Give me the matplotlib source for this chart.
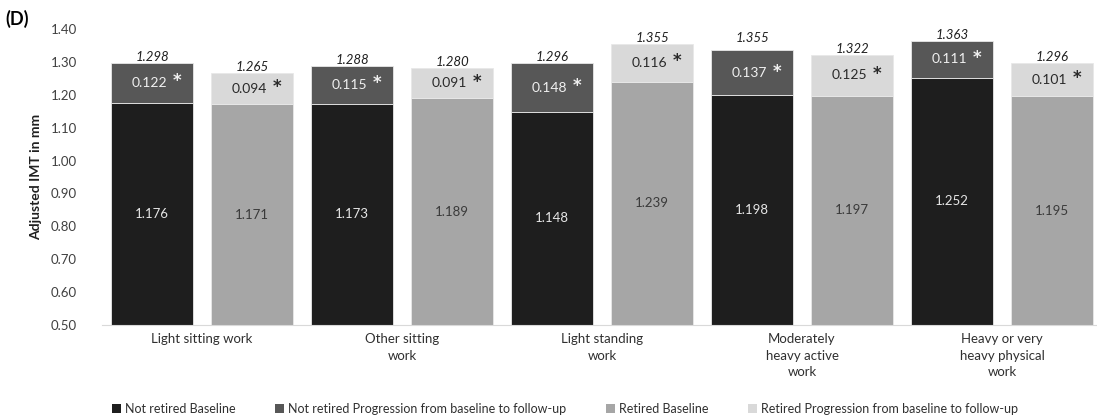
import numpy as np
import matplotlib
matplotlib.use("Agg")
import matplotlib.pyplot as plt
from matplotlib.patches import Patch

plt.rcParams['font.family'] = ['Lato', 'DejaVu Sans']

categories = ['Light sitting work', 'Other sitting\nwork', 'Light standing\nwork',
              'Moderately\nheavy active\nwork', 'Heavy or very\nheavy physical\nwork']
notret_base = [1.176, 1.173, 1.148, 1.198, 1.252]
notret_prog = [0.122, 0.115, 0.148, 0.137, 0.111]
notret_total = [1.298, 1.288, 1.296, 1.355, 1.363]
ret_base = [1.171, 1.189, 1.239, 1.197, 1.195]
ret_prog = [0.094, 0.091, 0.116, 0.125, 0.101]
ret_total = [1.265, 1.280, 1.355, 1.322, 1.296]
series_names = ['Not retired Baseline', 'Not retired Progression from baseline to follow-up',
                'Retired Baseline', 'Retired Progression from baseline to follow-up']
colors = ['#1e1e1e', '#575757', '#a6a6a6', '#d9d9d9']

ymin = 0.5
fig = plt.figure(figsize=(10.97, 4.19), dpi=100)
ax = fig.add_axes([0.093, 0.2243, 0.907, 0.7065])

x = np.arange(len(categories))
w = 0.41
off = 0.25

for xs, base, prog, tot, cb, cp, tcb, tcp in [
        (x - off, notret_base, notret_prog, notret_total, colors[0], colors[1], '#e6e6e6', '#f0f0f0'),
        (x + off, ret_base, ret_prog, ret_total, colors[2], colors[3], '#3a3a3a', '#2a2a2a')]:
    b1 = [v - ymin for v in base]
    ax.bar(xs, b1, w, bottom=ymin, color=cb, edgecolor='#e8e8e8', linewidth=0.6)
    ax.bar(xs, prog, w, bottom=base, color=cp, edgecolor='#e8e8e8', linewidth=0.6)
    for i in range(len(xs)):
        ax.text(xs[i], (ymin + base[i]) / 2, '%.3f' % base[i], ha='center', va='center',
                fontsize=9.5, color=tcb)
        ym = base[i] + prog[i] / 2
        ax.text(xs[i] - 0.015, ym, '%.3f' % prog[i], ha='center', va='center',
                fontsize=10, color=tcp)
        ax.annotate('*', (xs[i] - 0.015, ym), xytext=(17, 1), textcoords='offset points',
                    ha='left', va='center', fontsize=12, fontweight='bold',
                    family='DejaVu Sans', color=tcp)
        ax.text(xs[i], tot[i], '%.3f' % tot[i], ha='center', va='bottom',
                fontsize=9.5, style='italic', color='#202020')

ax.set_ylim(0.5, 1.4)
ax.set_yticks(np.arange(0.5, 1.401, 0.1))
ax.set_yticklabels(['%.2f' % v for v in np.arange(0.5, 1.401, 0.1)], fontsize=9.5, color='#404040')
ax.set_xlim(-0.5, 4.475)
ax.set_xticks(x)
ax.set_xticklabels(categories, fontsize=9.5, color='#303030', linespacing=1.45)
ax.tick_params(axis='both', length=0)
ax.tick_params(axis='x', pad=6)
ax.tick_params(axis='y', pad=18)
for s in ['top', 'right', 'left']:
    ax.spines[s].set_visible(False)
ax.spines['bottom'].set_color('#d9d9d9')
ax.set_ylabel('Adjusted IMT in mm', fontsize=10, fontweight='bold', color='#202020', labelpad=6)

fig.text(0.005, 0.955, '(D)', fontsize=13, fontweight='bold', ha='left', va='center')

handles = [Patch(facecolor=c, edgecolor='none') for c in colors]
fig.legend(handles, series_names, loc='center', bbox_to_anchor=(0.515, 0.024), ncol=4,
           frameon=False, fontsize=9, handlelength=0.7, handleheight=0.7, handletextpad=0.3,
           columnspacing=3.2, labelcolor='#303030')

fig.savefig('out.png', dpi=100)
